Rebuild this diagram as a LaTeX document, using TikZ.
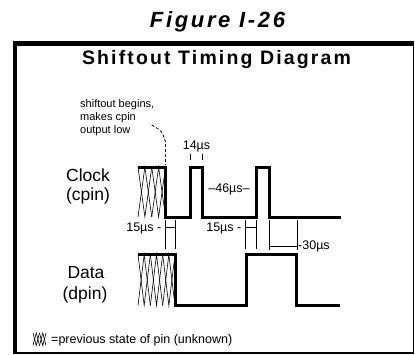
\documentclass[tikz,border=0pt]{standalone}
\usepackage{fontspec}
\setmainfont{Liberation Sans}
\newfontfamily\trackfont[LetterSpace=11]{Liberation Sans}
\newfontfamily\figfont[LetterSpace=12]{Liberation Sans}
\newcommand\hatchbox[5]{%
  \pgfmathsetmacro\hd{(#2-#1)/#5}%
  \foreach \i in {1,...,#5} {%
    \draw[hatchline] ({#1+(\i-1)*\hd},#3) -- ({#1+(\i-0.5)*\hd},#4) -- ({#1+\i*\hd},#3);
    \draw[hatchline] ({#1+(\i-1)*\hd},#4) -- ({#1+(\i-0.5)*\hd},#3) -- ({#1+\i*\hd},#4);
  }%
}
\begin{document}
\begin{tikzpicture}[x=1pt,y=-1pt,
  wave/.style={line width=3pt,line join=miter},
  tim/.style={line width=0.8pt},
  hatchline/.style={line width=0.6pt},
  lbl/.style={inner sep=0pt,font=\fontsize{17.5}{20}\selectfont},
  small/.style={inner sep=0pt,font=\fontsize{12.5}{14}\selectfont},
  note/.style={inner sep=0pt,font=\fontsize{11}{12.5}\selectfont,align=left},
  leader/.style={line width=0.8pt,dash pattern=on 3pt off 2pt}]
\useasboundingbox (0,0) rectangle (415,354);
% frame
\draw[line width=1.5pt] (14,43) rectangle (413.5,353.2);
\fill (12.7,41) rectangle (16.5,353.9);
\fill (12.7,41) rectangle (413.5,45.5);
% titles
\node[inner sep=0pt,font=\fontsize{22}{26}\selectfont\figfont\bfseries\itshape] (fig) at (217.5,22) {Figure I-26};
\node[inner sep=0pt,font=\fontsize{19.5}{23}\selectfont\trackfont\bfseries] (ttl) at (216.5,59.5) {Shiftout Timing Diagram};
% annotation
\node[note,anchor=base west] (n1) at (80,107) {shiftout begins,};
\node[note,anchor=base west] (n2) at (80,120) {makes cpin};
\node[note,anchor=base west] (n3) at (80,133) {output low};
\coordinate (lstart) at (151.7,125);
\coordinate (lbend) at (165.5,142);
\coordinate (lend) at (165.5,165);
\draw[leader] (lstart) .. controls (162,131) .. (lbend) -- (lend);
% signal labels
\node[lbl] (clk) at (88,175) {Clock};
\node[lbl] (cpin) at (88,196) {(cpin)};
\node[lbl] (dat) at (86,273) {Data};
\node[lbl] (dpin) at (85,295) {(dpin)};
% hatching
\hatchbox{138}{165.5}{167}{217}{2}
\hatchbox{138}{175}{254.5}{305.5}{3}
% clock waveform
\draw[wave] (138,167) -- (165.5,167) -- (165.5,217) -- (190,217) -- (190,167) -- (202,167) -- (202,217) -- (256.5,217) -- (256.5,167) -- (269,167) -- (269,217) -- (341,217);
% data waveform
\draw[wave] (138,254.5) -- (175,254.5) -- (175,305.5) -- (246.5,305.5) -- (246.5,254.5) -- (296,254.5) -- (296,305.5) -- (340,305.5);
% 14us
\node[small] (t14) at (196.5,146) {14µs};
\draw[tim] (190,154) -- (190,160);
\draw[tim] (202,154) -- (202,160);
% 46us
\node[small] (t46) at (229,189) {–46µs–};
% 15us first
\node[small,anchor=east] (t15a) at (161.5,228) {15µs -};
\draw[tim] (165.5,220) -- (165.5,249);
\draw[tim] (175.3,220) -- (175.3,249);
\draw[tim] (165.5,227.5) -- (175.3,227.5);
% 15us second
\node[small,anchor=east] (t15b) at (241.5,228) {15µs -};
\draw[tim] (245.3,220) -- (245.3,249);
\draw[tim] (256.5,220) -- (256.5,249);
\draw[tim] (245.3,227.5) -- (256.5,227.5);
% 30us
\node[small,anchor=west] (t30) at (298,246.5) {-30µs};
\draw[tim] (269,220) -- (269,250);
\draw[tim] (297.5,220) -- (297.5,250);
\draw[tim] (269,246) -- (297.5,246);
% legend
\hatchbox{33}{46}{333}{345.5}{2}
\node[inner sep=0pt,anchor=west,font=\fontsize{12.5}{14}\selectfont] (leg) at (51,340) {=previous state of pin (unknown)};
\end{tikzpicture}
\end{document}
